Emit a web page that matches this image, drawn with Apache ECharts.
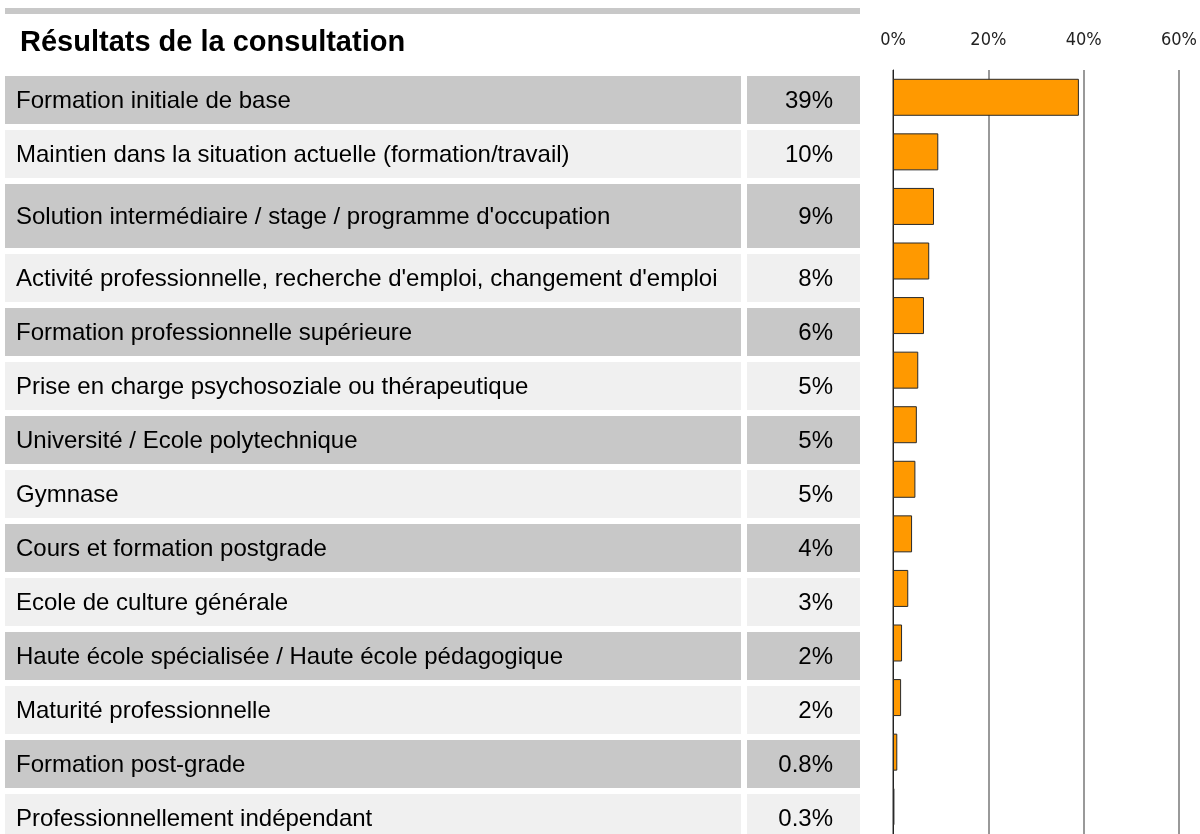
<!DOCTYPE html>
<html>
<head>
<meta charset="utf-8">
<title>Résultats de la consultation</title>
<script src="https://cdn.jsdelivr.net/npm/echarts@6/dist/echarts.min.js"></script>
<style>
  html, body { margin: 0; padding: 0; background: #fff; }
  #chart { width: 1200px; height: 834px; }
</style>
</head>
<body>
<div id="chart"></div>
<script>
// categories, top to bottom
var categories = [
  'Formation initiale de base',
  'Maintien dans la situation actuelle (formation/travail)',
  'Solution intermédiaire / stage / programme d\'occupation',
  'Activité professionnelle, recherche d\'emploi, changement d\'emploi',
  'Formation professionnelle supérieure',
  'Prise en charge psychosoziale ou thérapeutique',
  'Université / Ecole polytechnique',
  'Gymnase',
  'Cours et formation postgrade',
  'Ecole de culture générale',
  'Haute école spécialisée / Haute école pédagogique',
  'Maturité professionnelle',
  'Formation post-grade',
  'Professionnellement indépendant'
];
// shares as printed in the table
var shareLabels = ['39%', '10%', '9%', '8%', '6%', '5%', '5%', '5%', '4%', '3%', '2%', '2%', '0.8%', '0.3%'];
// bar lengths (in %)
var shareValues = [39, 9.5, 8.6, 7.6, 6.5, 5.3, 5.0, 4.7, 4.0, 3.2, 1.9, 1.7, 0.9, 0.3];
var axisTicks = [0, 20, 40, 60];

var title = 'Résultats de la consultation';

// table layout
var tableLeft = 5, labelRight = 741, valueLeft = 747, tableRight = 860;
var firstRowTop = 76, rowGap = 6;
function rowHeight(i) { return i === 2 ? 64 : 48; }

var chart = echarts.init(document.getElementById('chart'));

var graphics = [
  { type: 'rect', shape: { x: tableLeft, y: 8, width: tableRight - tableLeft, height: 6 },
    style: { fill: '#c8c8c8' }, silent: true },
  { type: 'text', x: 20, y: 43,
    style: { text: title, fill: '#000', font: 'bold 29px "Liberation Sans", Arial, sans-serif',
      textVerticalAlign: 'middle' } }
];

var y = firstRowTop;
categories.forEach(function (name, i) {
  var h = rowHeight(i);
  var fill = i % 2 === 0 ? '#c8c8c8' : '#f0f0f0';
  graphics.push({ type: 'rect', shape: { x: tableLeft, y: y, width: labelRight - tableLeft, height: h },
    style: { fill: fill }, silent: true });
  graphics.push({ type: 'rect', shape: { x: valueLeft, y: y, width: tableRight - valueLeft, height: h },
    style: { fill: fill }, silent: true });
  graphics.push({ type: 'text', x: 16, y: y + h / 2 + 1,
    style: { text: name, fill: '#000', font: '24px "Liberation Sans", Arial, sans-serif',
      textVerticalAlign: 'middle' } });
  graphics.push({ type: 'text', x: 833, y: y + h / 2 + 1,
    style: { text: shareLabels[i], fill: '#000', font: '24px "Liberation Sans", Arial, sans-serif',
      textAlign: 'right', textVerticalAlign: 'middle' } });
  y += h + rowGap;
});

chart.setOption({
  animation: false,
  backgroundColor: '#fff',
  grid: { left: 893, top: 70, width: 288, height: 770 },
  xAxis: {
    type: 'value',
    position: 'top',
    min: axisTicks[0],
    max: axisTicks[axisTicks.length - 1],
    interval: axisTicks[1] - axisTicks[0],
    axisLine: { show: false },
    axisTick: { show: false },
    axisLabel: {
      margin: 21,
      formatter: '{value}%',
      color: '#222',
      fontSize: 18,
      fontFamily: '"DejaVu Sans Condensed", "Liberation Sans Narrow", sans-serif'
    },
    splitLine: { show: true, lineStyle: { color: '#777', width: 1.5 } }
  },
  yAxis: {
    type: 'category',
    inverse: true,
    data: categories,
    axisLine: { show: true, lineStyle: { color: '#222', width: 1 } },
    axisTick: { show: false },
    axisLabel: { show: false }
  },
  series: [{
    type: 'bar',
    data: shareValues,
    barWidth: 37,
    itemStyle: { color: '#ff9900', borderColor: '#2a2a2a', borderWidth: 1 }
  }],
  graphic: graphics
});
</script>
</body>
</html>
